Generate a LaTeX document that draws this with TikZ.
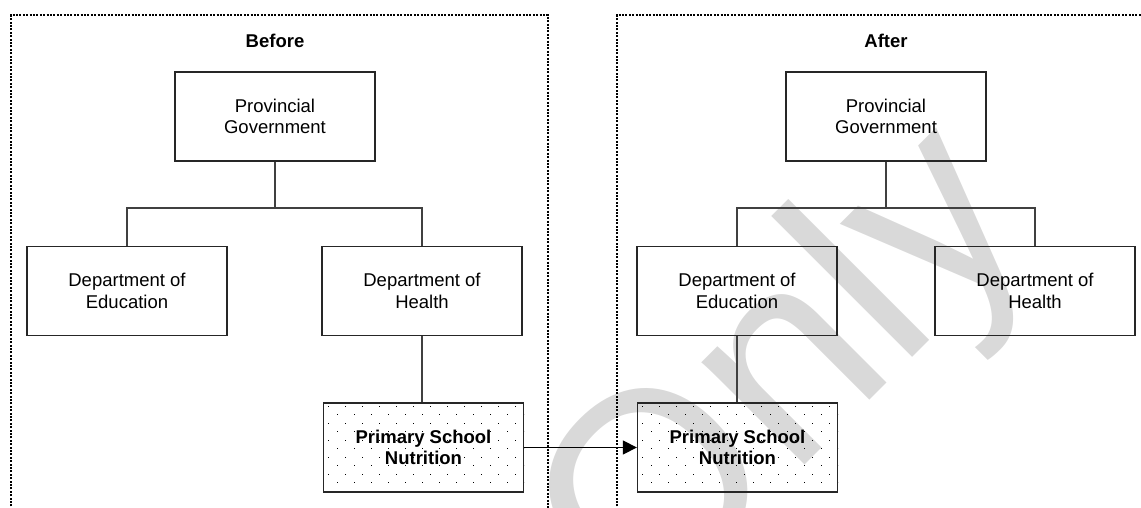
\documentclass[tikz,border=0pt]{standalone}
\usepackage{fontspec}
\setmainfont{Liberation Sans}
\usetikzlibrary{arrows.meta}
\begin{document}
\begin{tikzpicture}[x=1pt,y=-1pt,
  box/.style={draw=black!85,line width=1.3pt,minimum width=200pt,minimum height=89pt,inner sep=0pt,align=center,font=\fontsize{18.5}{21.5}\selectfont},
  psn/.style={box,font=\fontsize{18.5}{21.5}\selectfont\bfseries},
  conn/.style={draw=black!75,line width=1.2pt},
  frameline/.style={line width=2pt,dash pattern=on 2pt off 1.4pt},
  ttl/.style={font=\fontsize{18.5}{21.5}\selectfont\bfseries},
  dotfill/.style={fill=black}]
\useasboundingbox (0,0) rectangle (1141,508);
\clip (0,0) rectangle (1141,508);
% watermark
\node[rotate=45,text=black!15,font=\fontsize{275}{275}\selectfont,inner sep=0pt] (wm) at (790,380) {Only};
% frames
\draw[frameline] (11,520) -- (11,15) -- (548,15) -- (548,520);
\draw[frameline] (617,520) -- (617,15) -- (1160,15);
\node[ttl] (before) at (275,41) {Before};
\node[ttl] (after) at (886,41) {After};
% dots in the PSN boxes
\foreach \x in {323,637}{
  \begin{scope}
    \clip (\x,403) rectangle ++(201,89);
    \foreach \r in {0,...,10}{
      \pgfmathsetmacro\off{mod(\r,2)*8.5}
      \foreach \c in {0,...,11}{
        \fill[dotfill] ({\x+5+\off+17*\c},{405.5+8.5*\r}) rectangle ++(1.4,1.4);
      }
    }
  \end{scope}
}
% left (before)
\node[box] (pgL) at (275,116.5) {Provincial\\Government};
\node[box] (eduL) at (127,291) {Department of\\Education};
\node[box] (hL) at (422,291) {Department of\\Health};
\node[psn] (psnL) at (423.5,447.5) {Primary School\\Nutrition};
\coordinate (jL) at (275,208);
\draw[conn] (pgL.south) -- (jL);
\draw[conn] (eduL.north) |- (jL) -| (hL.north);
\draw[conn] (hL.south) -- (hL.south |- psnL.north);
% right (after)
\node[box] (pgR) at (886,116.5) {Provincial\\Government};
\node[box] (eduR) at (737,291) {Department of\\Education};
\node[box] (hR) at (1035,291) {Department of\\Health};
\node[psn] (psnR) at (737.5,447.5) {Primary School\\Nutrition};
\coordinate (jR) at (886,208);
\draw[conn] (pgR.south) -- (jR);
\draw[conn] (eduR.north) |- (jR) -| (hR.north);
\draw[conn] (eduR.south) -- (eduR.south |- psnR.north);
% arrow
\draw[conn,draw=black,-{Triangle[length=14pt,width=14pt]}] (psnL.east) -- (psnR.west);
\end{tikzpicture}
\end{document}
